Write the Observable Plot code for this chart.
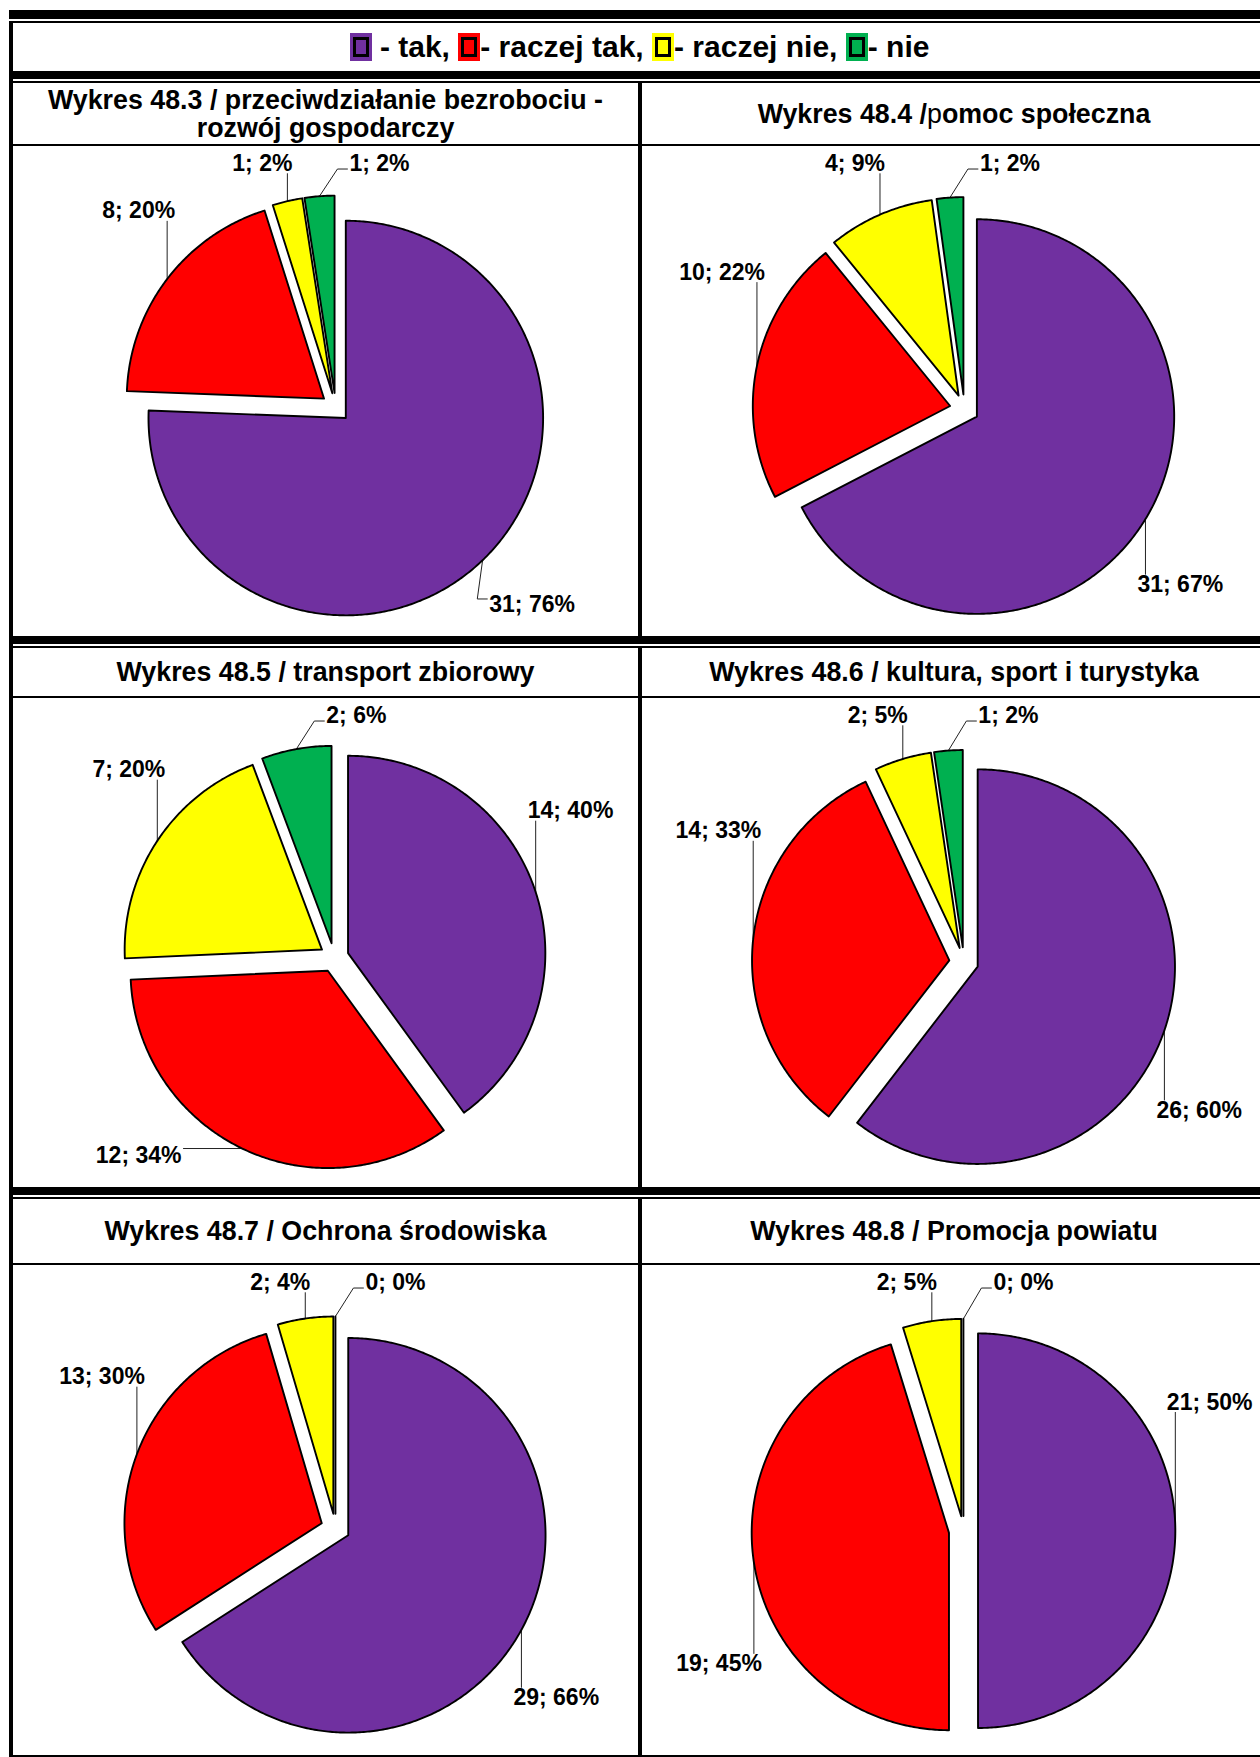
<!DOCTYPE html>
<html>
<head>
<meta charset="utf-8">
<script src="https://cdn.jsdelivr.net/npm/d3@7"></script>
<script src="https://cdn.jsdelivr.net/npm/@observablehq/plot@0.6"></script>
<style>
  html, body { margin: 0; padding: 0; background: #fff; }
  body { width: 1260px; height: 1757px; overflow: hidden; position: relative;
         font-family: "Liberation Sans", Arial, Helvetica, sans-serif; }
  .blk { position: absolute; background: #000; }
  .cell { position: absolute; overflow: visible; }
  .title { position: absolute; display: flex; align-items: center; justify-content: center;
           text-align: center; font-weight: bold; font-size: 26.8px; line-height: 28px; color: #000;
           white-space: pre-line; }
  .legend { position: absolute; display: flex; align-items: center; justify-content: center;
            font-weight: bold; font-size: 30px; color: #000; white-space: pre; }
  .sw { display: inline-block; width: 22px; height: 28px; box-sizing: border-box; padding: 4px 3px; }
  .sw i { display: block; width: 100%; height: 100%; box-sizing: border-box; border: 3px solid #000; }
</style>
</head>
<body>
<script>
// ---------------- data ----------------
const categories = ["tak", "raczej tak", "raczej nie", "nie"];
const palette = ["#7030A0", "#FF0000", "#FFFF00", "#00B050"];
const legendTexts = [" - tak, ", "- raczej tak, ", "- raczej nie, ", "- nie"];

const titles = [
  "Wykres 48.3 / przeciwdziałanie bezrobociu -\nrozwój gospodarczy",
  "Wykres 48.4 /pomoc społeczna",
  "Wykres 48.5 / transport zbiorowy",
  "Wykres 48.6 / kultura, sport i turystyka",
  "Wykres 48.7 / Ochrona środowiska",
  "Wykres 48.8 / Promocja powiatu"
];

const counts_48_3 = [31, 8, 1, 1];
const percents_48_3 = [76, 20, 2, 2];
const counts_48_4 = [31, 10, 4, 1];
const percents_48_4 = [67, 22, 9, 2];
const counts_48_5 = [14, 12, 7, 2];
const percents_48_5 = [40, 34, 20, 6];
const counts_48_6 = [26, 14, 2, 1];
const percents_48_6 = [60, 33, 5, 2];
const counts_48_7 = [29, 13, 2, 0];
const percents_48_7 = [66, 30, 4, 0];
const counts_48_8 = [21, 19, 2, 0];
const percents_48_8 = [50, 45, 5, 0];

const chartCounts = [counts_48_3, counts_48_4, counts_48_5, counts_48_6, counts_48_7, counts_48_8];
const chartPercents = [percents_48_3, percents_48_4, percents_48_5, percents_48_6, percents_48_7, percents_48_8];

// ---------------- layout ----------------
const FONT = '"Liberation Sans", Arial, Helvetica, sans-serif';
const colX = [[13, 638], [642, 1266]];
const titleRows = [[83, 144], [648, 696], [1199, 1263]];
const chartRows = [[146, 636], [698, 1187], [1265, 1755]];

function blk(x, y, w, h) {
  const d = document.createElement("div");
  d.className = "blk";
  Object.assign(d.style, {left: x + "px", top: y + "px", width: w + "px", height: h + "px"});
  document.body.appendChild(d);
}
[[10, 9], [21, 2], [71, 8], [81, 2], [144, 2], [636, 8], [646, 2], [696, 2],
 [1187, 8], [1197, 2], [1263, 2], [1755, 2]].forEach(([y, h]) => blk(9, y, 1261, h));
blk(9, 21, 4, 1736);
blk(1266, 21, 4, 1736);
[[83, 636], [648, 1187], [1199, 1757]].forEach(([a, b]) => blk(638, a, 4, b - a));

const legend = document.createElement("div");
legend.className = "legend";
Object.assign(legend.style, {left: "13px", top: "23px", width: "1253px", height: "48px"});
categories.forEach((c, i) => {
  const sw = document.createElement("span");
  sw.className = "sw";
  sw.style.background = palette[i];
  sw.appendChild(document.createElement("i"));
  legend.appendChild(sw);
  legend.appendChild(document.createTextNode(legendTexts[i]));
});
document.body.appendChild(legend);

titles.forEach((t, k) => {
  const r = Math.floor(k / 2), c = k % 2;
  const d = document.createElement("div");
  d.className = "title";
  Object.assign(d.style, {
    left: colX[c][0] + "px", top: titleRows[r][0] + "px",
    width: (colX[c][1] - colX[c][0]) + "px", height: (titleRows[r][1] - titleRows[r][0]) + "px"
  });
  if (k === 1) {
    d.innerHTML = 'Wykres 48.4 /<span style="font-weight:normal">p</span>omoc społeczna';
  } else {
    d.textContent = t;
  }
  document.body.appendChild(d);
});

// ---------------- pies ----------------
const canvas = document.createElement("canvas");
const ctx = canvas.getContext("2d");
const LABEL_FS = 23;
ctx.font = `bold ${LABEL_FS}px ${FONT}`;

function pieChart(counts, percents, W, H) {
  const R = 197.3;        // radius in px
  const EXPL = 0.074;     // explosion, fraction of radius
  const K = 1.41;         // label ring, fraction of radius
  const OX = 9, OY = 14;  // offset of the pie block from the cell centre
  const arcs = d3.pie().sort(null).value(d => d)(counts);
  const last = arcs.length - 1;

  const poly = [];
  arcs.forEach((s, i) => {
    const m = (s.startAngle + s.endAngle) / 2;
    const ex = EXPL * Math.sin(m), ey = EXPL * Math.cos(m);
    poly.push({key: i, cat: categories[i], x: ex, y: ey});
    const n = Math.max(1, Math.ceil((s.endAngle - s.startAngle) / 0.01));
    for (let k = 0; k <= n; k++) {
      const a = s.startAngle + (s.endAngle - s.startAngle) * k / n;
      poly.push({key: i, cat: categories[i], x: ex + Math.sin(a), y: ey + Math.cos(a)});
    }
  });
  const bx = (d3.min(poly, d => d.x) + d3.max(poly, d => d.x)) / 2;
  const by = (d3.min(poly, d => d.y) + d3.max(poly, d => d.y)) / 2;
  const xd0 = bx - (W / 2 + OX) / R;
  const yTop = by + (H / 2 + OY) / R;
  const toPx = (x, y) => [(x - xd0) * R, (yTop - y) * R];
  const fromPx = (px, py) => [xd0 + px / R, yTop - py / R];
  const [cx, cy] = toPx(0, 0);
  const KR = K * R;

  const labs = arcs.map((s, i) => {
    const m = (s.startAngle + s.endAngle) / 2;
    const text = `${counts[i]}; ${percents[i]}%`;
    const w = ctx.measureText(text).width;
    const h = LABEL_FS * 0.8;
    const [px, py] = toPx((1 + EXPL) * Math.sin(m), (1 + EXPL) * Math.cos(m));
    const side = (Math.sin(m) > 1e-9 || i === last) ? 1 : -1;
    const below = -Math.cos(m) >= 0;
    let lx = px + side * (w / 2 - 8);
    const dy = Math.sqrt(Math.max(0, KR * KR - (lx - cx) ** 2));
    let ly = cy + (below ? dy : -dy);
    const minY = 17, maxY = H - 32;
    if (ly < minY) {
      ly = minY;
      lx = side > 0 ? px + 30 + w / 2 : px + 5 - w / 2;
    }
    if (ly > maxY) {
      ly = maxY;
      const ddx = Math.sqrt(Math.max(0, KR * KR - (ly - cy) ** 2));
      lx = cx + side * ddx;
    }
    lx = Math.max(w / 2 + 8, Math.min(W - w / 2 - 14, lx));
    return {i, text, w, h, px, py, lx, ly};
  });
  for (let j = 1; j < labs.length; j++) {
    for (let i = 0; i < j; i++) {
      const a = labs[i], b = labs[j];
      const need = (a.w + b.w) / 2 + 20;
      if (Math.abs(a.lx - b.lx) < need && Math.abs(a.ly - b.ly) < a.h + 6) {
        if (b.ly < cy) b.lx = a.lx + need;
        else b.ly = a.ly + a.h + 8;
      }
    }
  }
  const labels = [], leaders = [];
  labs.forEach(L => {
    const [ux, uy] = fromPx(L.lx, L.ly);
    labels.push({x: ux, y: uy, text: L.text});
    const x0 = L.lx - L.w / 2 - 2, x1 = L.lx + L.w / 2 + 2;
    const y0 = L.ly - L.h / 2 - 1, y1 = L.ly + L.h / 2 + 1;
    let pts;
    if (L.px >= x0 && L.px <= x1) pts = [[L.px, L.py < L.ly ? y0 : y1], [L.px, L.py]];
    else if (L.py >= y0 && L.py <= y1) pts = [[L.px < L.lx ? x0 : x1, L.py], [L.px, L.py]];
    else {
      const sx = L.px < L.lx ? x0 : x1;
      const sy = L.ly + (L.py > L.ly ? L.h * 0.3 : -L.h * 0.3);
      const ex = sx + (L.px < L.lx ? -10 : 10);
      pts = [[sx, sy], [ex, sy], [L.px, L.py]];
    }
    pts.forEach(([qx, qy]) => {
      const [vx, vy] = fromPx(qx, qy);
      leaders.push({key: L.i, x: vx, y: vy});
    });
  });

  return Plot.plot({
    width: W, height: H, margin: 0,
    x: {domain: [xd0, xd0 + W / R], range: [0, W], axis: null},
    y: {domain: [yTop - H / R, yTop], range: [H, 0], axis: null},
    color: {domain: categories, range: palette},
    style: {background: "transparent", overflow: "visible"},
    marks: [
      Plot.line(leaders, {x: "x", y: "y", z: "key", stroke: "#222", strokeWidth: 1, curve: "linear"}),
      Plot.line(poly, {x: "x", y: "y", z: "key", fill: "cat", stroke: "#000", strokeWidth: 1.9,
                       curve: "linear-closed", strokeLinejoin: "round"}),
      Plot.text(labels, {x: "x", y: "y", text: "text", fontSize: LABEL_FS, fontWeight: "bold",
                         fontFamily: FONT, fill: "#000", textAnchor: "middle", lineAnchor: "middle"})
    ]
  });
}

chartCounts.forEach((counts, k) => {
  const r = Math.floor(k / 2), c = k % 2;
  const W = colX[c][1] - colX[c][0], H = chartRows[r][1] - chartRows[r][0];
  const d = document.createElement("div");
  d.className = "cell";
  Object.assign(d.style, {left: colX[c][0] + "px", top: chartRows[r][0] + "px",
                          width: W + "px", height: H + "px"});
  d.appendChild(pieChart(counts, chartPercents[k], W, H));
  document.body.appendChild(d);
});
</script>
</body>
</html>
